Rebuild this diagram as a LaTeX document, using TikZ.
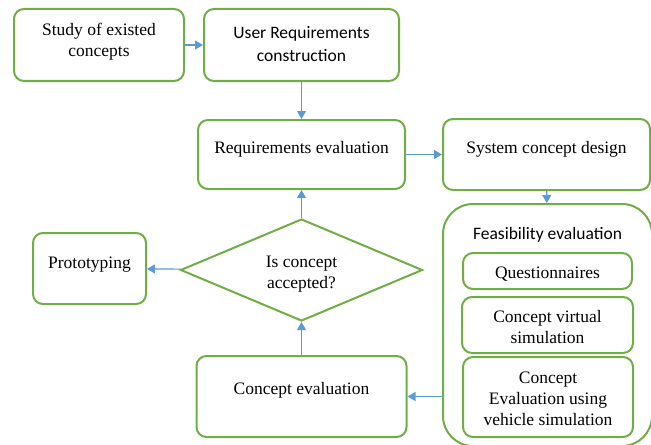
\documentclass[tikz,border=0pt]{standalone}
\usepackage{fontspec}
\setmainfont{Liberation Serif}
\newfontfamily\calibri{Carlito}
\usetikzlibrary{shapes.geometric}
\usetikzlibrary{arrows.meta}
\definecolor{keretzold}{RGB}{112,173,71}
\definecolor{nyilkek}{RGB}{91,155,213}

\begin{document}
\begin{tikzpicture}[x=0.5pt,y=-0.5pt,>={Triangle[length=4pt,width=4.5pt]},
font=\fontsize{8.75}{10.5}\selectfont,
doboz/.style={rectangle,rounded corners=5pt,line width=1pt,draw=keretzold,align=center,inner sep=0pt},
dontes/.style={diamond,aspect=2.37,line width=1pt,draw=keretzold,align=center,inner sep=0pt},
felirat/.style={align=center,inner sep=0pt}]
\clip (0,0) rectangle (651,444);
\node[doboz,minimum width=85pt,minimum height=36pt,label={[felirat,yshift=1.75pt]center:Study of existed\\concepts}](study) at (99,45){};
\node[doboz,minimum width=97.5pt,minimum height=36pt,label={[felirat,yshift=0.5pt,font=\calibri\fontsize{8.75}{11.5}\selectfont]center:User Requirements\\construction}](user-req) at (301.5,45){};
\node[doboz,minimum width=103.5pt,minimum height=34.5pt,label={[felirat,yshift=2.5pt]center:Requirements evaluation}](req-eval) at (301.5,154.5){};
\node[doboz,minimum width=103.5pt,minimum height=35.5pt,label={[felirat,yshift=2.5pt]center:System concept design}](sys-design) at (546.5,154.5){};
\node[doboz,rounded corners=15pt,minimum width=104.5pt,minimum height=121pt,label={[felirat,yshift=45pt,font=\calibri\fontsize{8.75}{10.5}\selectfont]center:Feasibility evaluation}](feasibility) at (547.5,325){};
\node[doboz,minimum width=84.5pt,minimum height=18pt,label={[felirat,yshift=-1.5pt]center:Questionnaires}](quest) at (547.5,271){};
\node[doboz,minimum width=85.5pt,minimum height=28pt,label={[felirat,yshift=-1.25pt]center:Concept virtual\\simulation}](virtual) at (547.5,325){};
\node[doboz,minimum width=85pt,minimum height=40pt,label={[felirat,yshift=-1pt]center:Concept\\Evaluation using\\vehicle simulation}](vehicle) at (548,397){};
\node[doboz,minimum width=105pt,minimum height=40.5pt,label={[felirat,yshift=3pt]center:Concept evaluation}](concept-eval) at (301.5,396.5){};
\node[dontes,minimum width=121pt,minimum height=51pt,label={[felirat,yshift=-2pt]center:Is concept\\accepted?}](accepted) at (301.5,270){};
\node[doboz,minimum width=56.5pt,minimum height=35.5pt,label={[felirat,yshift=2pt]center:Prototyping}](proto) at (89.5,268.5){};
\begin{scope}[->,color=nyilkek,line width=0.6pt]
 \draw (study)--(user-req);
 \draw (user-req)--(req-eval);
 \draw (req-eval)--(sys-design);
 \draw (sys-design)--(feasibility);
 \draw (feasibility.west |- concept-eval.east)--(concept-eval);
 \draw (concept-eval)--(accepted);
 \draw (accepted)--(req-eval);
 \draw (accepted)--(proto);
\end{scope}
\end{tikzpicture}
\end{document}
